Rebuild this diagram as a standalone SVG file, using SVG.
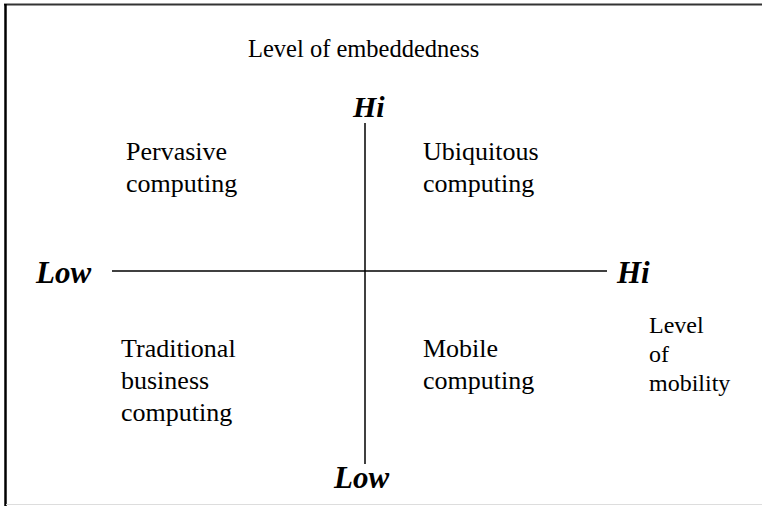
<svg xmlns="http://www.w3.org/2000/svg" width="762" height="506" viewBox="0 0 762 506">
<style>
.t{font-family:"Liberation Serif","Times New Roman",serif;fill:#000}
.r{font-size:26px}
.s{font-size:24px}
.b{font-weight:bold;font-style:italic}
.ax{stroke:#000;stroke-width:1.5;fill:none}
</style>
<rect x="0" y="0" width="762" height="506" fill="#fff"/>
<g id="frame">
<line x1="4" y1="4.5" x2="762" y2="4.5" stroke="#333" stroke-width="2"/>
<line x1="5.5" y1="4" x2="5.5" y2="506" stroke="#000" stroke-width="2.5"/>
<line x1="6" y1="504.5" x2="762" y2="504.5" stroke="#ddd" stroke-width="1.2"/>
</g>
<g id="connectors">
<line class="ax" x1="112" y1="271" x2="607" y2="271"/>
<line class="ax" x1="365" y1="123" x2="365" y2="464"/>
</g>
<g id="title"><text class="t" x="248" y="57" style="font-size:24.5px">Level of embeddedness</text></g>
<g id="axis-top"><text class="t b" x="353" y="117" style="font-size:30px">Hi</text></g>
<g id="axis-bottom"><text class="t b" x="334" y="488" style="font-size:31px">Low</text></g>
<g id="axis-left"><text class="t b" x="36" y="283" style="font-size:31px">Low</text></g>
<g id="axis-right"><text class="t b" x="617" y="283" style="font-size:31px">Hi</text></g>
<g id="pervasive"><text class="t r" x="126" y="160">Pervasive</text><text class="t r" x="126" y="192">computing</text></g>
<g id="ubiquitous"><text class="t r" x="423" y="160">Ubiquitous</text><text class="t r" x="423" y="192">computing</text></g>
<g id="traditional"><text class="t r" x="121" y="357">Traditional</text><text class="t r" x="121" y="389">business</text><text class="t r" x="121" y="421">computing</text></g>
<g id="mobile"><text class="t r" x="423" y="357">Mobile</text><text class="t r" x="423" y="389">computing</text></g>
<g id="mobility"><text class="t s" x="649" y="333">Level</text><text class="t s" x="649" y="362">of</text><text class="t s" x="649" y="391">mobility</text></g>
</svg>
